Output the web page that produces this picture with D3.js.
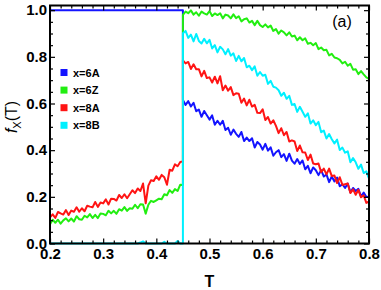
<!DOCTYPE html>
<html>
<head>
<meta charset="utf-8">
<script src="https://cdn.jsdelivr.net/npm/d3@7"></script>
<style>
  body { margin: 0; background: #fff; }
  svg { display: block; font-family: "Liberation Sans", Arial, sans-serif; }
</style>
</head>
<body>
<div id="chart"></div>
<script>
// series labels + colours
const seriesNames = ["x=6A", "x=6Z", "x=8A", "x=8B"];
const seriesColors = ["#1414ff", "#22ee11", "#ff1414", "#00f0ff"];

// temperature grids: below and above the jump at T = 0.45
const tLow = d3.range(51).map(i => +(0.2 + i * 0.005).toFixed(3));
const tHigh = d3.range(71).map(i => +(0.45 + i * 0.005).toFixed(3));

const xTicks = [0.2, 0.3, 0.4, 0.5, 0.6, 0.7, 0.8];
const yTicks = [0.0, 0.2, 0.4, 0.6, 0.8, 1.0];

// T = 0.200 .. 0.450
const blueLow = [1, 1, 1, 1, 1, 1, 1, 1, 1, 1, 1, 1, 1, 1, 1, 1, 1, 1, 1, 1, 1, 1, 1, 1, 1, 1,
  1, 1, 1, 1, 1, 1, 1, 1, 1, 1, 1, 1, 1, 1, 1, 1, 1, 1, 1, 1, 1, 1, 1, 1, 1];
const greenLow = [0.082, 0.102, 0.089, 0.102, 0.085, 0.099, 0.108, 0.095, 0.107, 0.094,
  0.117, 0.104, 0.102, 0.119, 0.112, 0.126, 0.109, 0.123, 0.109, 0.129,
  0.127, 0.121, 0.140, 0.129, 0.140, 0.127, 0.147, 0.141, 0.156, 0.140,
  0.151, 0.149, 0.166, 0.151, 0.168, 0.167, 0.128, 0.166, 0.183, 0.178,
  0.185, 0.192, 0.190, 0.211, 0.207, 0.229, 0.217, 0.233, 0.225, 0.252, 0.251];
const redLow = [0.112, 0.125, 0.110, 0.135, 0.129, 0.124, 0.143, 0.122, 0.141, 0.136,
  0.155, 0.136, 0.151, 0.138, 0.162, 0.158, 0.155, 0.178, 0.157, 0.176,
  0.172, 0.189, 0.167, 0.192, 0.191, 0.184, 0.208, 0.195, 0.211, 0.194,
  0.211, 0.228, 0.216, 0.236, 0.225, 0.257, 0.172, 0.248, 0.271, 0.268,
  0.288, 0.273, 0.294, 0.284, 0.252, 0.316, 0.312, 0.339, 0.331, 0.349, 0.352];
const cyanLow = [0, 0, 0, 0, 0, 0, 0, 0, 0, 0, 0, 0, 0, 0, 0, 0, 0, 0, 0, 0,
  0, 0, 0, 0, 0, 0, 0, 0, 0, 0, 0, 0, 0, 0, 0.004, 0.009, 0, 0, 0, 0,
  0, 0, 0, 0.007, 0, 0, 0, 0, 0.011, 0, 0];

// T = 0.450 .. 0.800
const blueHigh = [0.615, 0.594, 0.610, 0.587, 0.603, 0.567, 0.574, 0.543, 0.568, 0.550,
  0.531, 0.549, 0.509, 0.526, 0.509, 0.526, 0.486, 0.496, 0.466, 0.488,
  0.470, 0.457, 0.478, 0.439, 0.454, 0.439, 0.451, 0.411, 0.435, 0.424,
  0.402, 0.427, 0.398, 0.412, 0.376, 0.391, 0.400, 0.370, 0.383, 0.354,
  0.385, 0.355, 0.342, 0.362, 0.341, 0.356, 0.318, 0.333, 0.301, 0.326,
  0.314, 0.293, 0.314, 0.287, 0.296, 0.263, 0.287, 0.266, 0.283, 0.245,
  0.254, 0.238, 0.257, 0.219, 0.238, 0.225, 0.234, 0.201, 0.218, 0.199, 0.200];
const greenHigh = [0.980, 0.994, 0.987, 0.999, 0.981, 0.991, 0.976, 0.994, 0.986, 0.981,
  0.996, 0.975, 0.986, 0.979, 0.987, 0.965, 0.981, 0.977, 0.965, 0.982,
  0.966, 0.974, 0.952, 0.961, 0.965, 0.947, 0.954, 0.936, 0.954, 0.936,
  0.928, 0.939, 0.926, 0.934, 0.911, 0.919, 0.899, 0.913, 0.905, 0.892,
  0.905, 0.887, 0.891, 0.871, 0.884, 0.871, 0.879, 0.856, 0.860, 0.850,
  0.859, 0.833, 0.840, 0.828, 0.830, 0.806, 0.813, 0.797, 0.794, 0.787,
  0.772, 0.779, 0.762, 0.770, 0.745, 0.747, 0.726, 0.739, 0.725, 0.712, 0.705];
const redHigh = [0.785, 0.772, 0.778, 0.748, 0.768, 0.747, 0.747, 0.716, 0.740, 0.709,
  0.712, 0.690, 0.715, 0.686, 0.717, 0.657, 0.677, 0.655, 0.670, 0.636,
  0.644, 0.642, 0.603, 0.621, 0.592, 0.616, 0.587, 0.594, 0.560, 0.559,
  0.575, 0.529, 0.542, 0.514, 0.528, 0.504, 0.473, 0.494, 0.464, 0.478,
  0.437, 0.442, 0.437, 0.396, 0.420, 0.391, 0.390, 0.358, 0.381, 0.343,
  0.340, 0.343, 0.306, 0.321, 0.296, 0.321, 0.289, 0.291, 0.259, 0.284,
  0.251, 0.254, 0.257, 0.216, 0.232, 0.209, 0.230, 0.198, 0.206, 0.174, 0.180];
const cyanHigh = [0.901, 0.911, 0.881, 0.895, 0.866, 0.898, 0.868, 0.857, 0.877, 0.858,
  0.873, 0.836, 0.850, 0.819, 0.843, 0.832, 0.811, 0.833, 0.805, 0.815,
  0.782, 0.804, 0.781, 0.795, 0.755, 0.762, 0.743, 0.759, 0.719, 0.735,
  0.719, 0.723, 0.684, 0.697, 0.672, 0.668, 0.657, 0.633, 0.646, 0.620,
  0.633, 0.594, 0.598, 0.564, 0.586, 0.565, 0.543, 0.558, 0.514, 0.528,
  0.507, 0.521, 0.477, 0.484, 0.450, 0.469, 0.447, 0.429, 0.445, 0.401,
  0.411, 0.389, 0.395, 0.348, 0.366, 0.348, 0.320, 0.338, 0.302, 0.309, 0.278];

const lowVals = [blueLow, greenLow, redLow, cyanLow];
const highVals = [blueHigh, greenHigh, redHigh, cyanHigh];

const W = 381, H = 290;
const svg = d3.select("#chart").append("svg").attr("width", W).attr("height", H);

const x = d3.scaleLinear().domain([0.2, 0.8]).range([50, 369]);
const y = d3.scaleLinear().domain([0, 1.02]).range([243.5, 5.5]);

const xMinor = d3.range(0.2, 0.8001, 0.02).filter(v => Math.abs(v * 10 - Math.round(v * 10)) > 1e-6);
const yMinor = d3.range(0, 1.0201, 0.05).filter(v => Math.abs(v * 5 - Math.round(v * 5)) > 1e-6);

function drawAxes() {
  const fmt = d3.format(".1f");
  const bottom = svg.append("g").attr("transform", "translate(0,243.5)");
  bottom.call(d3.axisBottom(x).tickValues(xTicks).tickSize(-5).tickPadding(5).tickFormat(fmt));
  bottom.append("g").call(d3.axisBottom(x).tickValues(xMinor).tickSize(-3).tickFormat(""));
  const top = svg.append("g").attr("transform", "translate(0,5.5)");
  top.call(d3.axisTop(x).tickValues(xTicks).tickSize(-5).tickFormat(""));
  top.append("g").call(d3.axisTop(x).tickValues(xMinor).tickSize(-3).tickFormat(""));

  const left = svg.append("g").attr("transform", "translate(50,0)");
  left.call(d3.axisLeft(y).tickValues(yTicks).tickSize(-5).tickPadding(3).tickFormat(fmt));
  left.append("g").call(d3.axisLeft(y).tickValues(yMinor).tickSize(-3).tickFormat(""));
  const right = svg.append("g").attr("transform", "translate(369,0)");
  right.call(d3.axisRight(y).tickValues(yTicks).tickSize(-5).tickFormat(""));
  right.append("g").call(d3.axisRight(y).tickValues(yMinor).tickSize(-3).tickFormat(""));

  svg.selectAll(".domain").remove();
  svg.selectAll(".tick line").attr("stroke", "#000").attr("stroke-width", 1.2);
  svg.selectAll(".tick text")
    .attr("fill", "#000")
    .style("font-size", "15px")
    .style("font-weight", "bold")
    .style("font-family", "'Liberation Sans', Arial, sans-serif");
}

function drawLines() {
  const line = d3.line().x(d => x(d[0])).y(d => y(d[1]));
  seriesNames.forEach((name, k) => {
    const pts = tLow.map((t, i) => [t, lowVals[k][i]])
      .concat(tHigh.map((t, i) => [t, highVals[k][i]]));
    svg.append("path")
      .datum(pts)
      .attr("fill", "none")
      .attr("stroke", seriesColors[k])
      .attr("stroke-width", 2)
      .attr("stroke-linejoin", "round")
      .attr("d", line);
  });
}

drawLines();
drawAxes();

// frame
svg.append("rect")
  .attr("x", 50).attr("y", 5.5).attr("width", 319).attr("height", 238)
  .attr("fill", "none").attr("stroke", "#000").attr("stroke-width", 2);

// legend
const legend = svg.append("g");
seriesNames.forEach((name, k) => {
  const cy = 72.5 + k * 17.6;
  legend.append("rect").attr("x", 60.5).attr("y", cy - 3.5).attr("width", 7).attr("height", 7)
    .attr("fill", seriesColors[k]);
  legend.append("text").attr("x", 73).attr("y", cy + 4)
    .style("font-size", "11px").style("font-weight", "bold").text(name);
});

// axis titles
svg.append("text").attr("x", 209.5).attr("y", 287).attr("text-anchor", "middle")
  .style("font-size", "16px").style("font-weight", "bold").text("T");

const yl = svg.append("text").attr("transform", "translate(17,117) rotate(-90)")
  .attr("text-anchor", "middle").style("font-size", "16px");
yl.append("tspan").style("font-style", "italic").text("f");
yl.append("tspan").attr("dy", 4).style("font-size", "11px").text("X");
yl.append("tspan").attr("dy", -4).text("(T)");

svg.append("text").attr("x", 342).attr("y", 27).attr("text-anchor", "middle")
  .style("font-size", "16px").text("(a)");
</script>
</body>
</html>
